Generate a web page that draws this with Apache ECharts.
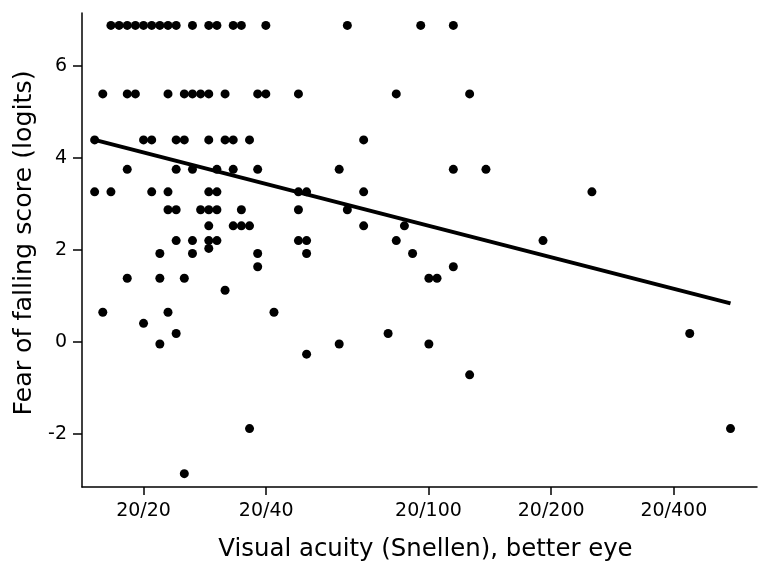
<!DOCTYPE html>
<html>
<head>
<meta charset="utf-8">
<script src="https://cdn.jsdelivr.net/npm/echarts@6/dist/echarts.min.js"></script>
<style>
  html, body { margin: 0; padding: 0; background: #fff; }
  #chart { width: 758px; height: 567px; }
</style>
</head>
<body>
<div id="chart"></div>
<script>
// Fear of falling score levels (logits) and the logMAR acuities observed at each level
const fearLevels = [6.88, 5.39, 4.39, 3.75, 3.26, 2.87, 2.52, 2.20, 2.03, 1.92, 1.63, 1.38, 1.12, 0.64, 0.40, 0.18, -0.05, -0.27, -0.72, -1.89, -2.87];
const acuityAtLevel = [
  [-0.08, -0.06, -0.04, -0.02, 0.00, 0.02, 0.04, 0.06, 0.08, 0.12, 0.16, 0.18, 0.22, 0.24, 0.30, 0.50, 0.68, 0.76],
  [-0.10, -0.04, -0.02, 0.06, 0.10, 0.12, 0.14, 0.16, 0.20, 0.28, 0.30, 0.38, 0.62, 0.80],
  [-0.12, 0.00, 0.02, 0.08, 0.10, 0.16, 0.20, 0.22, 0.26, 0.54],
  [-0.04, 0.08, 0.12, 0.18, 0.22, 0.28, 0.48, 0.76, 0.84],
  [-0.12, -0.08, 0.02, 0.06, 0.16, 0.18, 0.38, 0.40, 0.54, 1.10],
  [0.06, 0.08, 0.14, 0.16, 0.18, 0.24, 0.38, 0.50],
  [0.16, 0.22, 0.24, 0.26, 0.54, 0.64],
  [0.08, 0.12, 0.16, 0.18, 0.38, 0.40, 0.62, 0.98],
  [0.16],
  [0.04, 0.12, 0.28, 0.40, 0.66],
  [0.28, 0.76],
  [-0.04, 0.04, 0.10, 0.70, 0.72],
  [0.20],
  [-0.10, 0.06, 0.32],
  [0.00],
  [0.08, 0.60, 1.34],
  [0.04, 0.48, 0.70],
  [0.40],
  [0.80],
  [0.26, 1.44],
  [0.10]
];

// Fitted regression line
const fitIntercept = 4.117;
const fitSlope = -2.28;

// X axis ticks: logMAR positions and Snellen labels
const xTickValues = [0, 0.301, 0.699, 1.0, 1.301];
const xTickLabels = ['20/20', '20/40', '20/100', '20/200', '20/400'];
const yTickValues = [-2, 0, 2, 4, 6];

const points = [];
fearLevels.forEach((f, i) => acuityAtLevel[i].forEach(a => points.push([a, f])));
const xs = points.map(p => p[0]);
const xMinData = Math.min.apply(null, xs);
const xMaxData = Math.max.apply(null, xs);
const fitLine = [
  [xMinData, fitIntercept + fitSlope * xMinData],
  [xMaxData, fitIntercept + fitSlope * xMaxData]
];

const FONT = 'DejaVu Sans';
const chart = echarts.init(document.getElementById('chart'), null, { renderer: 'canvas' });
chart.setOption({
  animation: false,
  backgroundColor: '#ffffff',
  grid: { left: 82, right: 1, top: 13, bottom: 80, containLabel: false, outerBoundsMode: 'none' },
  xAxis: {
    type: 'value',
    min: -0.151,
    max: 1.505,
    name: 'Visual acuity (Snellen), better eye',
    nameLocation: 'middle',
    nameGap: 51,
    nameTextStyle: { fontFamily: FONT, fontSize: 24.4, color: '#000', padding: [0, 0, 0, 12] },
    axisLine: { show: true, onZero: false, lineStyle: { color: '#000', width: 1.5 } },
    axisTick: { show: true, length: 8, lineStyle: { color: '#000', width: 1.5 }, customValues: xTickValues },
    axisLabel: {
      show: true, margin: 15, fontFamily: FONT, fontSize: 19, color: '#000',
      customValues: xTickValues,
      formatter: v => {
        const i = xTickValues.findIndex(t => Math.abs(t - v) < 1e-6);
        return i >= 0 ? xTickLabels[i] : '';
      }
    },
    splitLine: { show: false }
  },
  yAxis: {
    type: 'value',
    min: -3.16,
    max: 7.15,
    name: 'Fear of falling score (logits)',
    nameLocation: 'middle',
    nameGap: 44,
    nameRotate: 90,
    nameTextStyle: { fontFamily: FONT, fontSize: 25.3, color: '#000', padding: [0, 0, 0, 14] },
    axisLine: { show: true, onZero: false, lineStyle: { color: '#000', width: 1.5 } },
    axisTick: { show: true, length: 9, lineStyle: { color: '#000', width: 1.5 }, customValues: yTickValues },
    axisLabel: {
      show: true, margin: 15, fontFamily: FONT, fontSize: 19, color: '#000',
      customValues: yTickValues,
      formatter: v => String(Math.round(v))
    },
    splitLine: { show: false }
  },
  series: [
    {
      type: 'line',
      data: fitLine,
      symbol: 'none',
      lineStyle: { color: '#000', width: 4 },
      z: 2,
      silent: true
    },
    {
      type: 'scatter',
      data: points,
      symbol: 'circle',
      symbolSize: 9,
      itemStyle: { color: '#000', opacity: 1 },
      z: 3
    }
  ]
});
</script>
</body>
</html>
